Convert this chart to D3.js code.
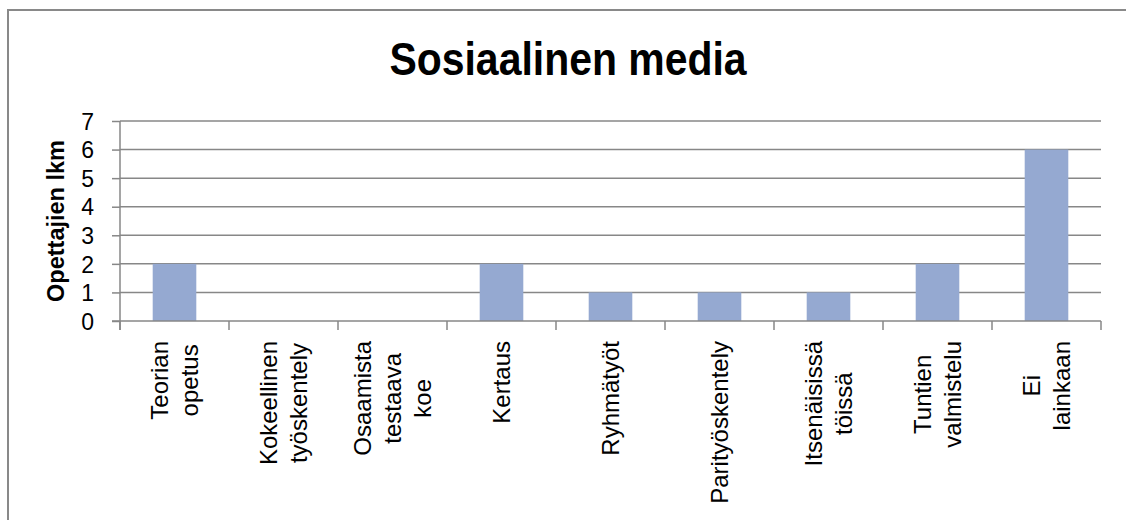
<!DOCTYPE html>
<html>
<head>
<meta charset="utf-8">
<script src="https://cdn.jsdelivr.net/npm/d3@7"></script>
<style>
  body { margin: 0; background: #fff; }
  svg { display: block; }
  text { font-family: "Liberation Sans", Arial, sans-serif; fill: #000; }
</style>
</head>
<body>
<svg id="chart" width="1126" height="520"></svg>
<script>
// categories (line breaks as shown under the axis)
var categories = [
  ["Teorian", "opetus"],
  ["Kokeellinen", "työskentely"],
  ["Osaamista", "testaava", "koe"],
  ["Kertaus"],
  ["Ryhmätyöt"],
  ["Parityöskentely"],
  ["Itsenäisissä", "töissä"],
  ["Tuntien", "valmistelu"],
  ["Ei", "lainkaan"]
];
var values = [2, 0, 0, 2, 1, 1, 1, 2, 6];
var yTicks = [0, 1, 2, 3, 4, 5, 6, 7];
var title = "Sosiaalinen media";
var yTitle = "Opettajien lkm";

var svg = d3.select("#chart");
var lineColor = "#878787";

// outer chart frame
svg.append("rect")
    .attr("x", 8)
    .attr("y", 10)
    .attr("width", 1140)
    .attr("height", 540)
    .style("fill", "none")
    .style("stroke", "#898989")
    .style("stroke-width", 2);

var plotLeft = 120, plotRight = 1101, plotTop = 121, plotBottom = 321;

var x = d3.scaleBand()
    .domain(d3.range(categories.length))
    .range([plotLeft, plotRight])
    .paddingInner(0.6)
    .paddingOuter(0.3);

var xCat = d3.scaleBand()
    .domain(d3.range(categories.length))
    .range([plotLeft, plotRight]);

var y = d3.scaleLinear()
    .domain([0, 7])
    .range([plotBottom, plotTop]);

// gridlines
svg.append("g").selectAll("line")
    .data(yTicks.filter(function(d){ return d > 0; }))
    .enter().append("line")
    .attr("x1", plotLeft)
    .attr("x2", plotRight)
    .attr("y1", function(d){ return y(d); })
    .attr("y2", function(d){ return y(d); })
    .style("stroke", lineColor)
    .style("stroke-width", 1.5);

// bars
svg.append("g").selectAll("rect")
    .data(values)
    .enter().append("rect")
    .attr("x", function(d, i){ return x(i); })
    .attr("width", x.bandwidth())
    .attr("y", function(d){ return y(d); })
    .attr("height", function(d){ return y(0) - y(d); })
    .style("fill", "#95a9d1");

// y axis
var yAxis = svg.append("g")
    .attr("transform", "translate(" + plotLeft + ",0)")
    .call(d3.axisLeft(y).tickValues(yTicks).tickSize(8).tickPadding(18).tickFormat(d3.format("d")));
yAxis.select(".domain").remove();
yAxis.selectAll("line").style("stroke", lineColor).style("stroke-width", 1.5);
yAxis.selectAll("text")
    .style("font-size", "23px")
    .attr("dy", "0.36em");
svg.append("line")
    .attr("x1", plotLeft).attr("x2", plotLeft)
    .attr("y1", plotTop).attr("y2", plotBottom + 9)
    .style("stroke", lineColor).style("stroke-width", 1.5);

// x axis line and category ticks
var xTickPos = d3.range(categories.length).map(function(i){ return xCat(i); }).concat([plotRight]);
svg.append("line")
    .attr("x1", plotLeft - 8).attr("x2", plotRight)
    .attr("y1", plotBottom).attr("y2", plotBottom)
    .style("stroke", lineColor).style("stroke-width", 1.5);
svg.append("g").selectAll("line")
    .data(xTickPos)
    .enter().append("line")
    .attr("x1", function(d){ return d; })
    .attr("x2", function(d){ return d; })
    .attr("y1", plotBottom)
    .attr("y2", plotBottom + 9)
    .style("stroke", lineColor).style("stroke-width", 1.5);

// rotated category labels, lines centred on each other
var lineH = 30, labelTop = 341;
categories.forEach(function(lines, i){
    var cx = xCat(i) + xCat.bandwidth() / 2;
    var g = svg.append("g");
    var texts = lines.map(function(s){
        return g.append("text")
            .text(s)
            .style("font-size", "24px")
            .attr("text-anchor", "middle");
    });
    var maxW = d3.max(texts, function(t){ return t.node().getComputedTextLength(); });
    var cy = labelTop + maxW / 2;
    texts.forEach(function(t, j){
        var bx = cx + 8.5 + (j - (lines.length - 1) / 2) * lineH;
        t.attr("transform", "translate(" + bx + "," + cy + ") rotate(-90)");
    });
});

// y axis title
svg.append("text")
    .attr("transform", "translate(64," + ((plotTop + plotBottom) / 2) + ") rotate(-90)")
    .attr("text-anchor", "middle")
    .style("font-size", "23.5px")
    .style("font-weight", "bold")
    .text(yTitle);

// chart title (condensed)
svg.append("text")
    .attr("transform", "translate(568,75) scale(0.89,1)")
    .attr("text-anchor", "middle")
    .style("font-size", "46px")
    .style("font-weight", "bold")
    .text(title);
</script>
</body>
</html>
